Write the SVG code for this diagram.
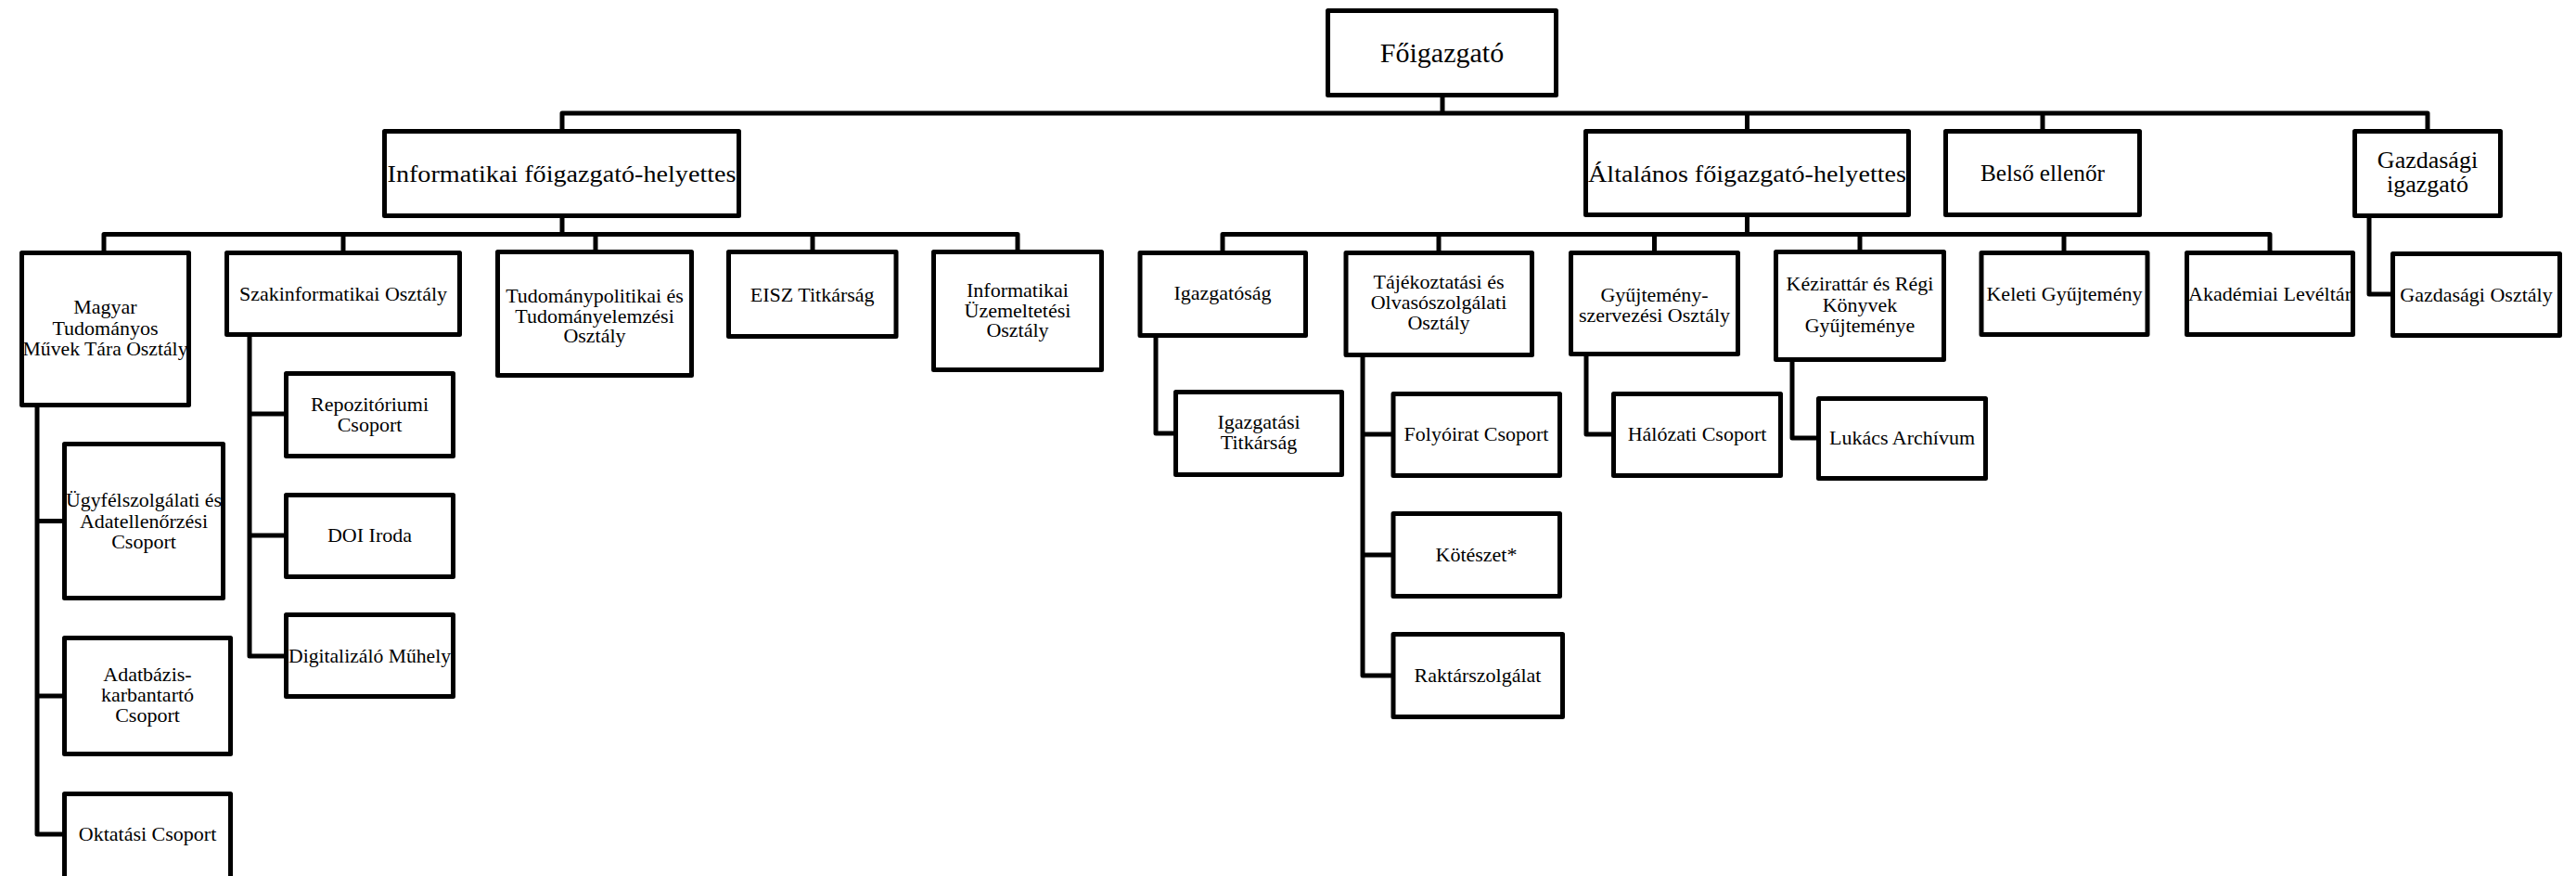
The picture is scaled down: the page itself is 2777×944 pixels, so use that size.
<svg xmlns="http://www.w3.org/2000/svg" width="2777" height="944" viewBox="0 0 2777 944">
<style>
.b{fill:#fff;stroke:#000;stroke-width:5;stroke-linejoin:round}
.c{fill:none;stroke:#000;stroke-width:5;stroke-linejoin:round}
text{font-family:"Liberation Serif","Times New Roman",serif;fill:#000;text-anchor:middle}
.t1{font-size:30px}
.t2{font-size:26px}
.t3{font-size:22px}
</style>
<rect width="2777" height="944" fill="#fff"/>
<g id="connectors">
<path class="c" d="M1555 103V122M606 139V122H2617V139M1883.5 122V139M2202 122V139"/>
<path class="c" d="M606 233V252.5M112 270V252.5H1097V270M370 252.5V270M642 252.5V270M876 252.5V270"/>
<path class="c" d="M40 437V899H69M40 561.5H69M40 750H69"/>
<path class="c" d="M269 361V707H308M269 446H308M269 577H308"/>
<path class="c" d="M1883.5 232V252.5M1318 270V252.5H2447V270M1551 252.5V270M1783.5 252.5V270M2005 252.5V270M2225 252.5V270"/>
<path class="c" d="M1246 362V467H1267"/>
<path class="c" d="M1469 383V728H1502M1469 468H1502M1469 598H1502"/>
<path class="c" d="M1710 382V468H1739"/>
<path class="c" d="M1932 388V472H1960"/>
<path class="c" d="M2554 233V317H2579"/>
</g>
<g id="foigazgato"><rect class="b" x="1431.5" y="11.5" width="246" height="91"/><text class="t1" x="1554.5" y="67">Főigazgató</text></g>
<g id="informatikai-fh"><rect class="b" x="414.5" y="141.5" width="382" height="91"/><text class="t2" x="605.5" y="196" textLength="376" lengthAdjust="spacingAndGlyphs">Informatikai főigazgató-helyettes</text></g>
<g id="altalanos-fh"><rect class="b" x="1709.5" y="141.5" width="348" height="90"/><text class="t2" x="1883.5" y="196" textLength="343" lengthAdjust="spacingAndGlyphs">Általános főigazgató-helyettes</text></g>
<g id="belso-ellenor"><rect class="b" x="2097.5" y="141.5" width="209" height="90"/><text class="t2" x="2202" y="195" textLength="134" lengthAdjust="spacingAndGlyphs">Belső ellenőr</text></g>
<g id="gazdasagi-igazgato"><rect class="b" x="2538.5" y="141.5" width="157" height="91"/><text class="t2" x="2617" y="181">Gazdasági</text><text class="t2" x="2617" y="207">igazgató</text></g>
<g id="mtmt"><rect class="b" x="23.5" y="272.5" width="180" height="164"/><text class="t3" x="113.5" y="338">Magyar</text><text class="t3" x="113.5" y="360.5">Tudományos</text><text class="t3" x="113.5" y="383" textLength="178" lengthAdjust="spacingAndGlyphs">Művek Tára Osztály</text></g>
<g id="szakinformatikai"><rect class="b" x="244.5" y="272.5" width="251" height="88"/><text class="t3" x="370" y="324">Szakinformatikai Osztály</text></g>
<g id="tudomanypolitikai"><rect class="b" x="536.5" y="271.5" width="209" height="133"/><text class="t3" x="641" y="326">Tudománypolitikai és</text><text class="t3" x="641" y="347.5">Tudományelemzési</text><text class="t3" x="641" y="369">Osztály</text></g>
<g id="eisz"><rect class="b" x="785.5" y="271.5" width="180.5" height="91"/><text class="t3" x="875.7" y="325">EISZ Titkárság</text></g>
<g id="inf-uzemeltetesi"><rect class="b" x="1006.5" y="271.5" width="181" height="127"/><text class="t3" x="1097" y="320">Informatikai</text><text class="t3" x="1097" y="341.5">Üzemeltetési</text><text class="t3" x="1097" y="363">Osztály</text></g>
<g id="ugyfelszolgalati"><rect class="b" x="69.5" y="478.5" width="171" height="166"/><text class="t3" x="155" y="546" textLength="168" lengthAdjust="spacingAndGlyphs">Ügyfélszolgálati és</text><text class="t3" x="155" y="568.5">Adatellenőrzési</text><text class="t3" x="155" y="591">Csoport</text></g>
<g id="adatbazis"><rect class="b" x="69.5" y="687.5" width="179" height="125"/><text class="t3" x="159" y="734">Adatbázis-</text><text class="t3" x="159" y="756">karbantartó</text><text class="t3" x="159" y="778">Csoport</text></g>
<g id="oktatasi"><rect class="b" x="69.5" y="855.5" width="179" height="92"/><text class="t3" x="159" y="906">Oktatási Csoport</text></g>
<g id="repozitoriumi"><rect class="b" x="308.5" y="402.5" width="180" height="89"/><text class="t3" x="398.5" y="443">Repozitóriumi</text><text class="t3" x="398.5" y="465">Csoport</text></g>
<g id="doi"><rect class="b" x="308.5" y="533.5" width="180" height="88"/><text class="t3" x="398.5" y="584">DOI Iroda</text></g>
<g id="digitalizalo"><rect class="b" x="308.5" y="662.5" width="180" height="88"/><text class="t3" x="398.5" y="714" textLength="175" lengthAdjust="spacingAndGlyphs">Digitalizáló Műhely</text></g>
<g id="igazgatosag"><rect class="b" x="1229" y="272.5" width="178.5" height="89"/><text class="t3" x="1318" y="323">Igazgatóság</text></g>
<g id="igazgatasi-titkarsag"><rect class="b" x="1267.5" y="422.5" width="179" height="89"/><text class="t3" x="1357" y="462">Igazgatási</text><text class="t3" x="1357" y="484">Titkárság</text></g>
<g id="tajekoztatasi"><rect class="b" x="1451" y="272.5" width="200.5" height="110"/><text class="t3" x="1551" y="311">Tájékoztatási és</text><text class="t3" x="1551" y="333">Olvasószolgálati</text><text class="t3" x="1551" y="355">Osztály</text></g>
<g id="folyoirat"><rect class="b" x="1502" y="424.5" width="179.5" height="88"/><text class="t3" x="1591.5" y="475">Folyóirat Csoport</text></g>
<g id="koteszet"><rect class="b" x="1502" y="553.5" width="179.5" height="89"/><text class="t3" x="1591.5" y="605">Kötészet*</text></g>
<g id="raktarszolgalat"><rect class="b" x="1502" y="683.5" width="182.5" height="89"/><text class="t3" x="1593" y="735">Raktárszolgálat</text></g>
<g id="gyujtemenyszervezesi"><rect class="b" x="1693.5" y="272.5" width="180" height="109"/><text class="t3" x="1783.5" y="325">Gyűjtemény-</text><text class="t3" x="1783.5" y="347">szervezési Osztály</text></g>
<g id="halozati"><rect class="b" x="1739.5" y="424.5" width="180" height="88"/><text class="t3" x="1829.5" y="475">Hálózati Csoport</text></g>
<g id="kezirattar"><rect class="b" x="1914.5" y="271.5" width="181" height="116"/><text class="t3" x="2005" y="313">Kézirattár és Régi</text><text class="t3" x="2005" y="335.5">Könyvek</text><text class="t3" x="2005" y="358">Gyűjteménye</text></g>
<g id="lukacs"><rect class="b" x="1960.5" y="429.5" width="180" height="86"/><text class="t3" x="2050.5" y="479">Lukács Archívum</text></g>
<g id="keleti"><rect class="b" x="2136" y="272.5" width="179" height="88"/><text class="t3" x="2225.5" y="324">Keleti Gyűjtemény</text></g>
<g id="akademiai"><rect class="b" x="2357.5" y="272.5" width="179" height="88"/><text class="t3" x="2447" y="324" textLength="176" lengthAdjust="spacingAndGlyphs">Akadémiai Levéltár</text></g>
<g id="gazdasagi-osztaly"><rect class="b" x="2579.5" y="273.5" width="180" height="88"/><text class="t3" x="2669.5" y="325">Gazdasági Osztály</text></g>
</svg>
